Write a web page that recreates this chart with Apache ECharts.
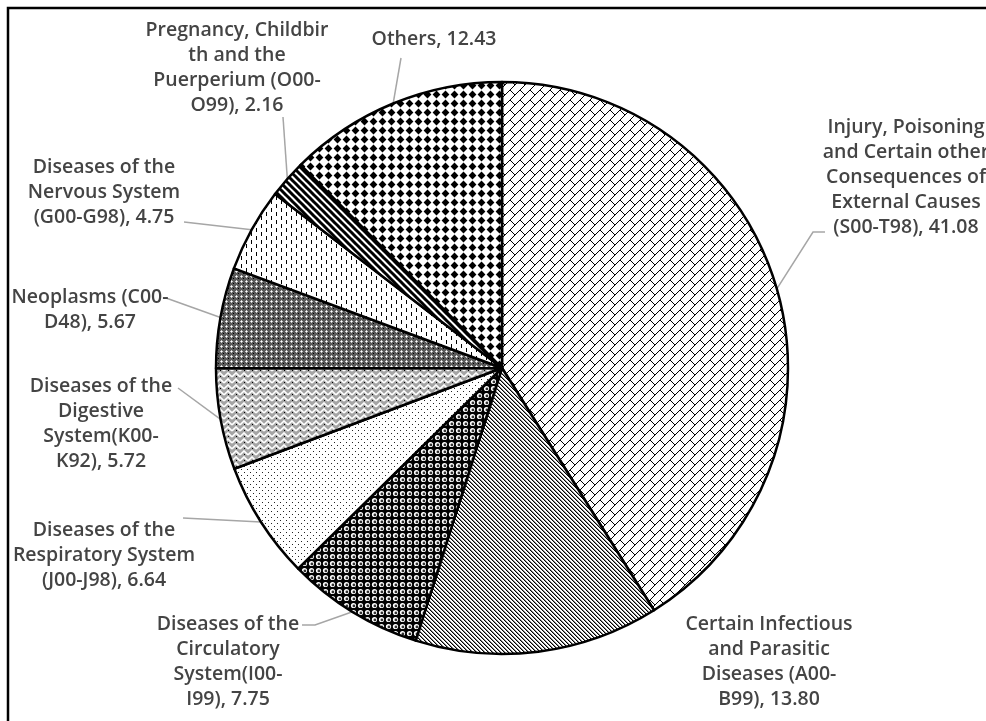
<!DOCTYPE html>
<html>
<head>
<meta charset="utf-8">
<script src="https://cdn.jsdelivr.net/npm/echarts@6/dist/echarts.min.js"></script>
<style>
  html, body { margin: 0; padding: 0; background: #fff; }
  #chart { width: 986px; height: 721px; }
</style>
</head>
<body>
<div id="chart"></div>
<script>
// categories (line breaks as in the picture)
var categories = [
  'Injury, Poisoning\nand Certain other\nConsequences of\nExternal Causes\n(S00-T98)',
  'Certain Infectious\nand Parasitic\nDiseases (A00-\nB99)',
  'Diseases of the\nCirculatory\nSystem(I00-\nI99)',
  'Diseases of the\nRespiratory System\n(J00-J98)',
  'Diseases of the\nDigestive\nSystem(K00-\nK92)',
  'Neoplasms (C00-\nD48)',
  'Diseases of the\nNervous System\n(G00-G98)',
  'Pregnancy, Childbir\nth and the\nPuerperium (O00-\nO99)',
  'Others'
];
var values = [41.08, 13.80, 7.75, 6.64, 5.72, 5.67, 4.75, 2.16, 12.43];

// where each label block sits (center x, top y) and where its leader ends
var labelPos = [
  { x: 906, y: 115, end: [[813, 232], [825, 232]] },
  { x: 769, y: 612, end: null },
  { x: 228, y: 612, end: [[315, 625], [302, 625]] },
  { x: 104, y: 518, end: [[183, 518]] },
  { x: 101, y: 374, end: [[178, 388]] },
  { x: 90,  y: 285, end: [[166, 298]] },
  { x: 104, y: 155, end: [[184, 222]] },
  { x: 237, y: 18,  end: [[283, 117]] },
  { x: 434, y: 27,  end: [[401, 58]] }
];

// ---- fill patterns, drawn on small tiles ----
function tile(w, h, draw) {
  var c = document.createElement('canvas');
  c.width = w; c.height = h;
  var g = c.getContext('2d');
  g.fillStyle = '#fff';
  g.fillRect(0, 0, w, h);
  draw(g, w, h);
  return { image: c, repeat: 'repeat' };
}
function px(g, x, y, col) { g.fillStyle = col || '#000'; g.fillRect(x, y, 1, 1); }

var patterns = [
  // diagonal brick
  tile(10, 10, function (g) {
    g.strokeStyle = '#000'; g.lineWidth = 1;
    g.beginPath();
    g.moveTo(0, 10); g.lineTo(10, 0);
    g.moveTo(-1, 1); g.lineTo(1, -1);
    g.moveTo(9, 11); g.lineTo(11, 9);
    g.moveTo(0, 0); g.lineTo(5, 5);
    g.stroke();
  }),
  // dense downward diagonal
  tile(4, 4, function (g) {
    for (var i = 0; i < 4; i++) { px(g, i, i, '#000'); px(g, (i + 1) % 4, i, '#888'); }
  }),
  // sphere
  tile(7, 7, function (g) {
    g.fillStyle = '#000'; g.fillRect(0, 0, 7, 7);
    g.fillStyle = '#fff';
    g.beginPath(); g.arc(3.5, 3.5, 2.6, 0, Math.PI * 2); g.fill();
    g.fillStyle = '#333';
    g.beginPath(); g.arc(3.9, 3.9, 1.4, 0, Math.PI * 2); g.fill();
  }),
  // small dots
  tile(6, 6, function (g) {
    px(g, 1, 1, '#222'); px(g, 4, 4, '#222');
  }),
  // gray zigzag weave
  tile(8, 6, function (g) {
    g.fillStyle = '#a4a4a4'; g.fillRect(0, 0, 8, 6);
    g.strokeStyle = '#fff'; g.lineWidth = 1.6;
    g.beginPath();
    g.moveTo(0, 5); g.lineTo(4, 1); g.lineTo(8, 5);
    g.stroke();
    px(g, 4, 4, '#000');
  }),
  // dark gray grid with light crosses
  tile(5, 5, function (g) {
    g.fillStyle = '#5a5a5a'; g.fillRect(0, 0, 5, 5);
    px(g, 1, 1, '#fff'); px(g, 0, 1, '#ccc'); px(g, 2, 1, '#ccc');
    px(g, 1, 0, '#ccc'); px(g, 1, 2, '#ccc'); px(g, 3, 3, '#000');
  }),
  // dashed vertical
  tile(10, 8, function (g) {
    g.fillStyle = '#000';
    g.fillRect(1, 0, 1, 4);
    g.fillRect(6, 4, 1, 4);
  }),
  // wide diagonal stripes
  tile(7, 7, function (g) {
    g.strokeStyle = '#000'; g.lineWidth = 3;
    g.beginPath();
    g.moveTo(-1, -1); g.lineTo(8, 8);
    g.moveTo(-8, -1); g.lineTo(1, 8);
    g.moveTo(6, -1); g.lineTo(15, 8);
    g.stroke();
  }),
  // solid diamonds
  tile(9, 9, function (g) {
    g.fillStyle = '#000';
    g.beginPath();
    g.moveTo(4.5, 0.6); g.lineTo(8.4, 4.5); g.lineTo(4.5, 8.4); g.lineTo(0.6, 4.5);
    g.closePath(); g.fill();
  })
];

var pieData = values.map(function (v, i) {
  var d = { name: categories[i], value: v, itemStyle: { color: patterns[i] } };
  if (!labelPos[i].end) d.labelLine = { show: false };
  return d;
});

var chart = echarts.init(document.getElementById('chart'));
chart.setOption({
  animation: false,
  backgroundColor: '#fff',
  graphic: [{
    type: 'rect',
    shape: { x: 8, y: 8, width: 1000, height: 800 },
    style: { fill: 'none', stroke: '#000', lineWidth: 2.5 }
  }],
  series: [{
    type: 'pie',
    center: [502, 368],
    radius: 286,
    startAngle: 90,
    clockwise: true,
    avoidLabelOverlap: false,
    itemStyle: { borderColor: '#000', borderWidth: 2.5 },
    label: {
      show: true,
      position: 'outside',
      formatter: function (p) { return p.name + ', ' + p.value.toFixed(2); },
      fontFamily: 'Open Sans',
      fontWeight: 600,
      fontSize: 19.5,
      lineHeight: 25,
      color: '#444',
      align: 'center'
    },
    labelLine: {
      show: true,
      lineStyle: { color: '#a6a6a6', width: 1.5 }
    },
    labelLayout: function (params) {
      var p = labelPos[params.dataIndex];
      var out = { x: p.x, y: p.y, align: 'center', verticalAlign: 'top' };
      if (p.end && params.labelLinePoints) {
        out.labelLinePoints = [params.labelLinePoints[0]].concat(p.end);
      }
      return out;
    },
    emphasis: { disabled: true },
    data: pieData
  }]
});
</script>
</body>
</html>
